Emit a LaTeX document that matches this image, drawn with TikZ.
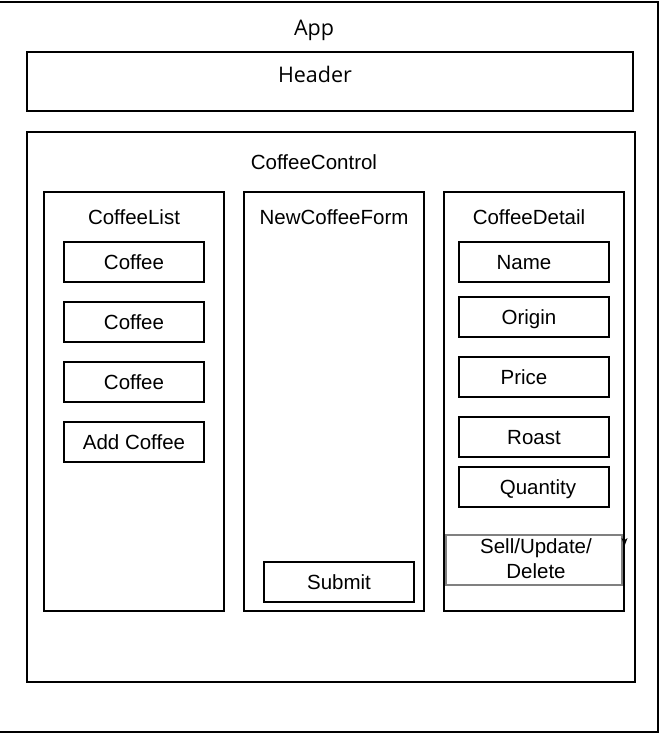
\documentclass[tikz,border=0pt]{standalone}
\usepackage{fontspec}
\setmainfont{Liberation Sans}
\newfontfamily\topfont{Open Sans}

\tikzset{
  box/.style={draw, line width=1.1pt, inner sep=0pt, text height=15pt, text depth=0pt},
  panel/.style={box, minimum width=180pt, minimum height=419pt},
  item/.style={box, minimum width=#1, minimum height=40pt},
  item/.default=150pt,
  title/.style={inner sep=0pt, text height=15pt, text depth=0pt},
  toptitle/.style={title, font=\topfont\fontsize{21.5}{25}\selectfont},
  lbl/.style={inner sep=0pt, text height=15pt, text depth=0pt}
}

\begin{document}
\begin{tikzpicture}[x=1pt, y=-1pt, font=\fontsize{20.5}{25}\selectfont]
        \useasboundingbox (0,0) rectangle (660,734);
        \clip (0,0) rectangle (660,734);

        % outer frames
        \node[box, minimum width=668pt, minimum height=730pt] (app) at (324,367) {};
        \node[toptitle] (applbl) at (314,28) {App};
        \node[box, minimum width=606pt, minimum height=59pt] (header) at (330,81.5) {};
        \node[toptitle] (headerlbl) at (315,75) {Header};
        \node[box, minimum width=608pt, minimum height=550pt] (control) at (331,407) {};
        \node[title] (controllbl) at (314,162) {CoffeeControl};

        % the three panels
        \node[panel] (list) at (134,401.5) {};
        \node[title] (listlbl) at (134,217) {CoffeeList};
        \node[panel] (form) at (334,401.5) {};
        \node[title] (formlbl) at (334,217) {NewCoffeeForm};
        \node[panel] (detail) at (534,401.5) {};
        \node[title] (detaillbl) at (529,217) {CoffeeDetail};

        % list items
        \node[item=140pt] (coffeeA) at (134,262) {Coffee};
        \node[item=140pt] (coffeeB) at (134,322) {Coffee};
        \node[item=140pt] (coffeeC) at (134,382) {Coffee};
        \node[item=140pt] (addcoffee) at (134,442) {Add Coffee};

        % form
        \node[item] (submit) at (339,582) {Submit};

        % detail fields
        \node[item, label={[lbl, xshift=-10pt]center:Name}] (name) at (534,262) {};
        \node[item, label={[lbl, xshift=-5pt]center:Origin}] (origin) at (534,317) {};
        \node[item, label={[lbl, xshift=-10pt]center:Price}] (price) at (534,377) {};
        \node[item] (roast) at (534,437) {Roast};
        \node[item, label={[lbl, xshift=4pt]center:Quantity}] (quantity) at (534,487) {};
        \node[draw=gray, line width=1.1pt, minimum width=176pt, minimum height=50pt,
              label={[xshift=2pt, yshift=1.5pt, align=center]center:Sell/Update/\\Delete}] (sell) at (534,560) {};

        \fill (621.5,538) -- (624.5,540) -- (627.5,538) -- (624.5,546) -- cycle;
\end{tikzpicture}
\end{document}
